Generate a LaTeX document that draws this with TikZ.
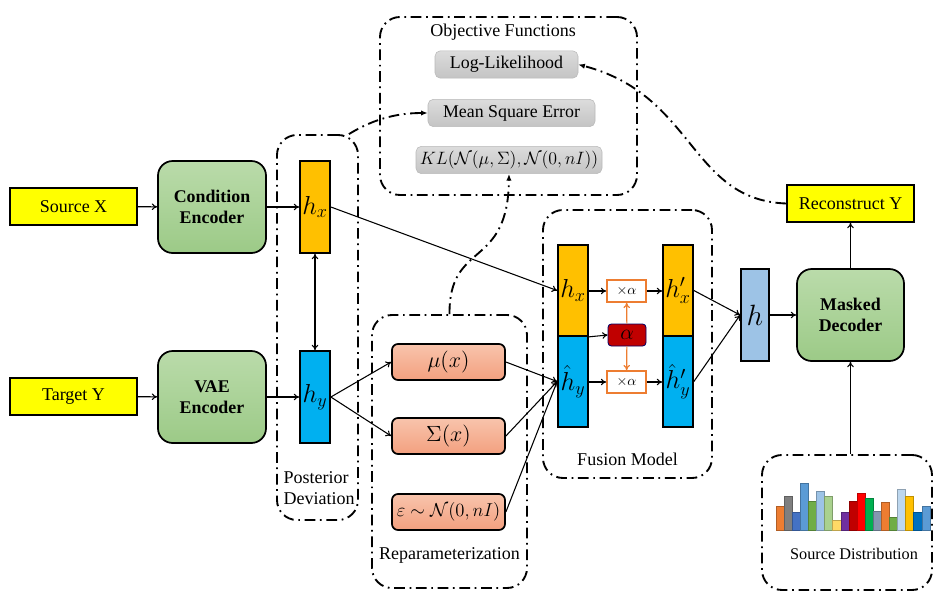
\RequirePackage{fix-cm}
\documentclass[tikz,border=0pt]{standalone}
\usepackage{fontspec}
\setmainfont{Liberation Serif}
\usetikzlibrary{arrows.meta,calc}
\definecolor{ylw}{HTML}{FFFF00}
\definecolor{grtop}{HTML}{BADBAA}
\definecolor{grbot}{HTML}{9CCA87}
\definecolor{sltop}{HTML}{F8C4AC}
\definecolor{slbot}{HTML}{F3A07F}
\definecolor{hxo}{HTML}{FFC000}
\definecolor{hyb}{HTML}{00B0F0}
\definecolor{hlb}{HTML}{9DC3E6}
\definecolor{alred}{HTML}{C00000}
\definecolor{orng}{HTML}{ED7D31}
\definecolor{gytop}{HTML}{DCDCDC}
\definecolor{gybot}{HTML}{C4C4C4}
\tikzset{
  arr/.style={-{To[length=4pt,width=5pt]}, line width=0.8pt},
  darr/.style={{To[length=4pt,width=5pt]}-{To[length=4pt,width=5pt]}, line width=0.8pt},
  oarr/.style={-{To[length=4pt,width=5pt]}, line width=0.9pt, draw=orng},
  dd/.style={line width=1.4pt, dash pattern=on 8pt off 3.5pt on 1.3pt off 3.5pt},
  ddarr/.style={dd, -{Latex[length=5pt,width=4pt]}},
  dbox/.style={dd, draw, rounded corners=15pt, inner sep=0pt},
  ybox/.style={draw, fill=ylw, line width=1.3pt, minimum width=95.25pt, minimum height=27.75pt, font=\fontsize{13.5}{15}\selectfont},
  gbox/.style={draw, top color=grtop, bottom color=grbot, line width=1.3pt, rounded corners=11pt, minimum width=81pt, minimum height=69pt, align=center, font=\fontsize{13.4}{15.5}\selectfont\bfseries},
  vec/.style={draw, line width=1.3pt, minimum width=22.5pt, inner sep=0pt, font=\fontsize{19.5}{21}\selectfont},
  obox/.style={draw=gray!55, top color=gytop, bottom color=gybot, rounded corners=4pt, minimum height=20.5pt, inner sep=2pt, font=\fontsize{13.4}{15}\selectfont},
  sbox/.style={draw, top color=sltop, bottom color=slbot, line width=1.3pt, rounded corners=4.5pt, minimum width=84.75pt, minimum height=27pt, inner sep=1pt, font=\fontsize{16.5}{18}\selectfont},
  xbox/.style={draw=orng, fill=white, line width=1.2pt, minimum width=29.25pt, minimum height=16.5pt, inner sep=0pt, font=\fontsize{10.5}{12}\selectfont},
  lbl/.style={font=\fontsize{13.5}{16}\selectfont},
  bar/.style={line width=0.4pt}
}
\begin{document}
\begin{tikzpicture}[x=0.75pt,y=-0.75pt]
\useasboundingbox (0,0) rectangle (933,593);

% dashed group boxes
\node[dbox, minimum width=192.75pt, minimum height=133.5pt] (obj) at (508.5,106) {};
\node[dbox, minimum width=60.75pt, minimum height=288.75pt] (pd) at (317.5,327.5) {};
\node[dbox, minimum width=116.25pt, minimum height=204.75pt] (rep) at (449.5,451.5) {};
\node[dbox, minimum width=126.75pt, minimum height=201pt] (fus) at (627.5,344) {};
\node[dbox, minimum width=127.5pt, minimum height=101.25pt] (sd) at (847,522.5) {};

% labels of groups
\node[lbl] (objt) at (503,32) {Objective Functions};
\node[lbl, align=left, anchor=west, font=\fontsize{13.5}{15.5}\selectfont] (pdt) at (279,488) {Posterior\\Deviation};
\node[lbl] (rept) at (449.5,555) {Reparameterization};
\node[lbl] (fust) at (627.5,459) {Fusion Model};
\node[lbl, font=\fontsize{12.2}{14}\selectfont] (sdt) at (854,554) {Source Distribution};

% objective boxes
\node[obox, minimum width=107.25pt] (ll) at (506.5,64.5) {Log-Likelihood};
\node[obox, minimum width=125.25pt] (mse) at (511.5,113) {Mean Square Error};
\node[obox, minimum width=139.5pt] (kl) at (509,160) {$KL(\mathcal{N}(\mu,\Sigma),\mathcal{N}(0,nI))$};

% inputs and encoders
\node[ybox] (sx) at (73.5,206.5) {Source X};
\node[ybox] (ty) at (73.5,396.5) {Target Y};
\node[gbox] (ce) at (212,207) {Condition\\Encoder};
\node[gbox] (ve) at (212,397) {VAE\\Encoder};

% latent vectors
\node[vec, fill=hxo, minimum height=69pt] (hx) at (315,207) {$h_x$};
\node[vec, fill=hyb, minimum height=69pt] (hy) at (315,397) {$h_y$};

% reparameterization boxes
\node[sbox] (mu) at (448.5,362) {$\mu(x)$};
\node[sbox] (sig) at (448.5,436) {$\Sigma(x)$};
\node[sbox, font=\fontsize{14}{16}\selectfont] (eps) at (448.5,512) {$\varepsilon\sim\mathcal{N}(0,nI)$};

% fusion model
\node[vec, fill=hxo, minimum height=68.25pt] (lt) at (573,290.5) {$h_x$};
\node[vec, fill=hyb, minimum height=68.25pt] (lb) at (573,381.5) {$\hat{h}_y$};
\node[vec, fill=hxo, minimum height=68.25pt] (rt) at (678,290.5) {$h'_x$};
\node[vec, fill=hyb, minimum height=68.25pt] (rb) at (678,381.5) {$\hat{h}'_y$};
\node[xbox] (xa1) at (626.5,291) {$\times\alpha$};
\node[xbox] (xa2) at (626.5,382) {$\times\alpha$};
\node[draw=blue!40!black, line width=0.6pt, fill=alred, rounded corners=2.5pt, minimum width=28.5pt, minimum height=16.5pt, inner sep=0pt, font=\fontsize{16}{17}\selectfont] (al) at (627,335) {$\alpha$};

% decoder side
\node[vec, fill=hlb, minimum width=21pt, minimum height=69pt, font=\fontsize{22}{24}\selectfont] (h) at (755,315) {$h$};
\node[gbox, minimum width=80.25pt] (md) at (850.5,315) {Masked\\Decoder};
\node[ybox] (rec) at (850.5,203.5) {Reconstruct Y};

% source distribution bars
\foreach \i/\t/\c in {0/506.7/ED7D31, 1/496.7/7F7F7F, 2/512/4472C4, 3/483.3/5B9BD5, 4/501.7/70AD47, 5/491.3/9DC3E6, 6/496.3/A9D18E, 7/520.3/FFD966, 8/512/7030A0, 9/501.7/C00000, 10/493/FF0000, 11/498/00B050, 12/511/8497B0, 13/502/ED7D31, 14/517.3/70AD47, 15/489.7/BDD7EE, 16/496.7/FFC000, 17/512/0070C0, 18/506.7/5B9BD5}{
  \definecolor{barc}{HTML}{\c}
  \draw[bar, fill=barc, draw=barc!75!black] ({776+\i*8.1},530.5) rectangle ({776+(\i+1)*8.1},\t);
}

% connectors
\draw[arr] (sx) -- (ce);
\draw[arr] (ty) -- (ve);
\draw[arr] (ce) -- (hx);
\draw[arr] (ve) -- (hy);
\draw[darr] (hx) -- (hy);
\draw[arr] (hx.east) -- (lt.west);
\draw[arr] (hy.east) -- (mu.west);
\draw[arr] (hy.east) -- (sig.west);
\draw[arr] (mu.east) -- (lb.west);
\draw[arr] (sig.east) -- (lb.west);
\draw[arr] (eps.east) -- (lb.west);
\draw[arr] (lt.east |- xa1) -- (xa1.west);
\draw[arr] (lb.east |- xa2) -- (xa2.west);
\draw[arr] (lt.south east) -- (al.west);
\draw[oarr] (al) -- (xa1);
\draw[oarr] (al) -- (xa2);
\draw[arr] (xa1.east) -- (rt.west |- xa1);
\draw[arr] (xa2.east) -- (rb.west |- xa2);
\draw[arr] (rt.east) -- (h.west);
\draw[arr] (rb.east) -- (h.west);
\draw[arr] (h) -- (md);
\draw[arr] (md) -- (rec);
\draw[arr] (sd.north -| md) -- (md.south);

% dash-dot connectors
\draw[ddarr] (rec.west) .. controls (690,200) and (695,95) .. (ll.east);
\draw[ddarr] ($(pd.north east)+(-10,0)$) .. controls (372,120) and (395,113) .. (mse.west);
\draw[ddarr] (rep.north) .. controls (449,240) and (508,270) .. (kl.south);
\end{tikzpicture}
\end{document}
